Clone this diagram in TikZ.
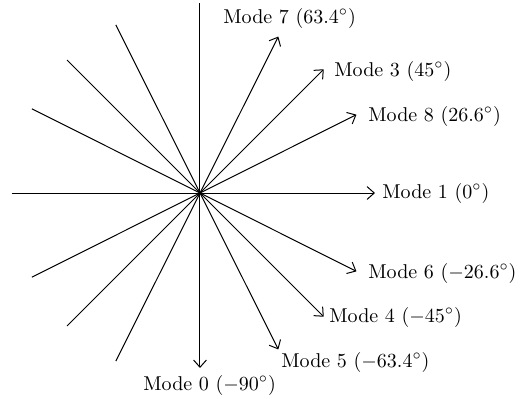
\documentclass[tikz,border=0pt]{standalone}
\usepackage{tikz}
\usetikzlibrary{arrows.meta, positioning}

\begin{document}
\begin{tikzpicture}[
  x=0.5pt, y=0.5pt,
  ray/.style={draw=black, line width=0.5pt, -{Straight Barb[length=3.6pt, width=6.4pt]}},
  lbl/.style={inner sep=0pt, anchor=west, font=\normalsize}
]
  \useasboundingbox (-200,-205) rectangle (325,193);

  \coordinate (o) at (0,0);

  % tails and tips of the eight mode directions
  \coordinate (s0) at (90:190);     \coordinate (t0) at (-90:175);
  \coordinate (s1) at (180:188);    \coordinate (t1) at (0:175);
  \coordinate (s3) at (225:188);    \coordinate (t3) at (45:175);
  \coordinate (s4) at (135:188);    \coordinate (t4) at (-45:175);
  \coordinate (s5) at (116.6:188);  \coordinate (t5) at (-63.4:175);
  \coordinate (s6) at (153.4:188);  \coordinate (t6) at (-26.6:175);
  \coordinate (s7) at (243.4:188);  \coordinate (t7) at (63.4:175);
  \coordinate (s8) at (206.6:188);  \coordinate (t8) at (26.6:175);

  \draw[ray] (s0) -- (t0);
  \draw[ray] (s1) -- (t1);
  \draw[ray] (s3) -- (t3);
  \draw[ray] (s4) -- (t4);
  \draw[ray] (s5) -- (t5);
  \draw[ray] (s6) -- (t6);
  \draw[ray] (s7) -- (t7);
  \draw[ray] (s8) -- (t8);

  \node[lbl] (m7) at (23,175) {Mode 7 (63.4$^\circ$)};
  \node[lbl] (m3) at (134,122) {Mode 3 (45$^\circ$)};
  \node[lbl] (m8) at (168,77) {Mode 8 (26.6$^\circ$)};
  \node[lbl] (m1) at (182,0) {Mode 1 (0$^\circ$)};
  \node[lbl] (m6) at (168,-80) {Mode 6 ($-$26.6$^\circ$)};
  \node[lbl] (m4) at (129,-124) {Mode 4 ($-$45$^\circ$)};
  \node[lbl] (m5) at (81,-169) {Mode 5 ($-$63.4$^\circ$)};
  \node[lbl] (m0) at (-57,-192) {Mode 0 ($-$90$^\circ$)};
\end{tikzpicture}
\end{document}
